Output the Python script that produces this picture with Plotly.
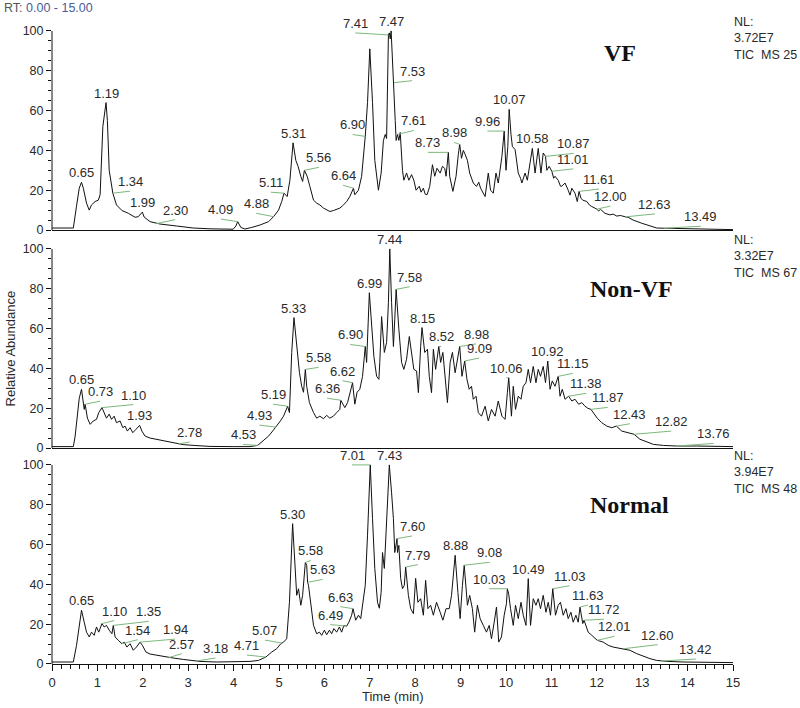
import plotly.graph_objects as go
from plotly.subplots import make_subplots
import numpy as np

## DATA (retention time in min, relative abundance in %)

vf_t = [0.00, 0.47, 0.54, 0.60, 0.65, 0.69, 0.76, 0.82, 0.87, 0.95, 1.02, 1.06, 1.12, 1.19, 1.22, 1.26,
        1.34, 1.42, 1.54, 1.68, 1.83, 1.90, 1.99, 2.03, 2.16, 2.30, 2.38, 2.75, 3.11, 3.48, 3.99, 4.05,
        4.09, 4.16, 4.25, 4.40, 4.58, 4.77, 4.88, 4.99, 5.06, 5.11, 5.18, 5.24, 5.31, 5.37, 5.42, 5.48,
        5.52, 5.56, 5.62, 5.68, 5.76, 5.83, 5.90, 5.98, 6.05, 6.12, 6.20, 6.27, 6.34, 6.42, 6.49, 6.56,
        6.64, 6.67, 6.75, 6.82, 6.90, 6.95, 7.00, 7.06, 7.11, 7.19, 7.25, 7.30, 7.34, 7.37, 7.41, 7.43,
        7.45, 7.47, 7.49, 7.51, 7.53, 7.56, 7.58, 7.61, 7.64, 7.67, 7.72, 7.75, 7.81, 7.86, 7.92, 7.97,
        8.02, 8.09, 8.13, 8.18, 8.22, 8.26, 8.32, 8.38, 8.43, 8.48, 8.55, 8.60, 8.65, 8.68, 8.73, 8.76,
        8.83, 8.90, 8.95, 8.98, 9.02, 9.06, 9.10, 9.15, 9.20, 9.28, 9.35, 9.40, 9.44, 9.49, 9.54, 9.61,
        9.66, 9.72, 9.78, 9.83, 9.91, 9.96, 10.00, 10.04, 10.07, 10.11, 10.14, 10.20, 10.27, 10.32, 10.35, 10.42,
        10.47, 10.53, 10.58, 10.64, 10.71, 10.77, 10.82, 10.87, 10.90, 10.95, 11.01, 11.05, 11.08, 11.15, 11.20, 11.23,
        11.30, 11.37, 11.41, 11.45, 11.52, 11.57, 11.61, 11.65, 11.69, 11.78, 11.84, 11.89, 12.00, 12.04, 12.08, 12.18,
        12.29, 12.36, 12.44, 12.52, 12.58, 12.63, 12.69, 12.74, 12.80, 12.99, 13.17, 13.32, 13.49, 13.69, 14.05, 14.42,
        15.00]
vf_y = [1.0, 1.0, 12, 21, 24, 21, 13.5, 10, 12.6, 14.3, 15, 17.7, 52, 64, 55, 30,
        18.5, 12.6, 9.8, 8.4, 6.4, 6.7, 9, 6.5, 4.2, 3.2, 3, 2, 1, 0.6, 0.4, 2,
        4.2, 1.3, 0.5, 1.3, 2.5, 4.2, 6.7, 10, 14.3, 18.5, 16.8, 25, 43.8, 35, 32, 27,
        24.4, 30, 27, 21.9, 15, 13.5, 12.6, 11, 10, 9.3, 9.8, 10.4, 11, 12.6, 14.3, 16.8,
        21, 17.7, 20, 27, 47, 64, 91, 64, 35, 20, 28.6, 45, 48, 46, 98, 99,
        96, 100, 88, 82, 74, 55, 45, 48, 45, 49, 30, 25, 28.6, 25, 27.8, 25,
        20, 22, 19, 21, 18, 17.7, 21.9, 32.8, 27, 31, 28.6, 32, 31, 27, 39, 27,
        19.4, 27, 38, 43, 36, 40, 38, 35, 28.6, 23.6, 21.9, 24, 21, 19, 16.8, 28.6,
        20, 18.5, 28.6, 23.6, 37, 49.7, 30, 42, 60.6, 48, 42, 40.4, 28.6, 26, 23.6, 28.6,
        25, 33.7, 41, 28.6, 41, 28.6, 38.7, 37, 30, 32, 29.5, 26, 27, 25, 22, 22,
        23.6, 20, 17.5, 21, 18.5, 14.3, 19.4, 16, 15, 14.3, 12.5, 11.8, 10.5, 9.5, 10.4, 8.4,
        7.6, 8, 7, 7.3, 6.7, 6.6, 6.4, 5.6, 5, 3.4, 2, 1, 0.9, 0.8, 0.5, 0.3,
        0.2]

nvf_t = [0.00, 0.47, 0.51, 0.56, 0.60, 0.65, 0.68, 0.71, 0.73, 0.78, 0.84, 0.91, 0.98, 1.03, 1.10, 1.15,
         1.20, 1.26, 1.31, 1.37, 1.42, 1.50, 1.56, 1.61, 1.66, 1.72, 1.78, 1.85, 1.93, 1.98, 2.05, 2.16,
         2.38, 2.60, 2.78, 2.89, 3.19, 3.48, 3.99, 4.36, 4.53, 4.65, 4.77, 4.86, 4.93, 4.98, 5.03, 5.10,
         5.17, 5.19, 5.23, 5.28, 5.33, 5.39, 5.45, 5.50, 5.54, 5.58, 5.61, 5.67, 5.76, 5.83, 5.90, 5.98,
         6.05, 6.12, 6.20, 6.27, 6.34, 6.36, 6.40, 6.45, 6.51, 6.56, 6.62, 6.67, 6.72, 6.78, 6.84, 6.90,
         6.93, 6.99, 7.04, 7.09, 7.15, 7.20, 7.22, 7.26, 7.32, 7.37, 7.41, 7.44, 7.48, 7.52, 7.55, 7.58,
         7.64, 7.70, 7.75, 7.81, 7.87, 7.92, 7.97, 8.03, 8.07, 8.12, 8.15, 8.21, 8.27, 8.31, 8.36, 8.40,
         8.45, 8.52, 8.56, 8.61, 8.66, 8.71, 8.77, 8.82, 8.88, 8.93, 8.98, 9.03, 9.09, 9.14, 9.19, 9.24,
         9.28, 9.34, 9.39, 9.46, 9.54, 9.61, 9.68, 9.76, 9.83, 9.91, 9.98, 10.03, 10.06, 10.12, 10.16, 10.21,
         10.27, 10.33, 10.38, 10.44, 10.49, 10.54, 10.60, 10.66, 10.71, 10.76, 10.82, 10.87, 10.92, 10.97, 11.02, 11.08,
         11.15, 11.19, 11.24, 11.30, 11.38, 11.45, 11.52, 11.60, 11.67, 11.74, 11.80, 11.87, 11.92, 12.01, 12.11, 12.22,
         12.33, 12.43, 12.55, 12.66, 12.82, 12.95, 13.10, 13.25, 13.47, 13.76, 14.20, 14.64, 15.00]
nvf_y = [0.7, 0.7, 6, 16, 25, 29.5, 24.5, 19.4, 22, 15, 11.9, 13.6, 14.4, 17.8, 20.3, 17.8,
         15, 17, 14.4, 16, 12.7, 13.6, 10.2, 11, 8.5, 10.2, 7.7, 9.4, 11.4, 8.5, 6, 5,
         4, 2.7, 2.0, 1.7, 1.2, 0.8, 0.7, 0.7, 1.3, 3.5, 6, 8.5, 10.5, 12, 13.6, 16,
         20.3, 21, 17.8, 48, 65.5, 51, 38, 31, 28, 39.5, 31, 22.8, 17.8, 15, 16, 14.7,
         16.4, 15, 16, 17.8, 19.4, 24, 22, 20.3, 22.8, 28, 32.8, 22, 28, 29.5, 36, 51,
         43, 78, 59.6, 46, 36, 34.5, 43, 66, 48, 53, 73, 100, 73, 51, 64.7, 79.7,
         59.6, 43, 39.5, 44.6, 56, 48, 39.5, 38.7, 27.8, 51, 60.5, 48, 49.6, 36, 27.8, 49.6,
         39.5, 51, 43, 48, 36, 22.8, 43, 48, 37.8, 44.6, 51, 36, 43.7, 34.5, 29.5, 31,
         24.5, 26, 17.8, 16, 21, 13.6, 19.4, 16, 23.6, 16, 14.4, 27.8, 35.3, 16, 31, 19.4,
         26, 24.5, 31, 32.8, 39.5, 32.8, 41, 32.8, 39.5, 36, 41, 32.8, 43.7, 29.5, 33.7, 31,
         36, 26, 29.5, 24.5, 26, 23.6, 24.5, 22, 22.8, 21, 20, 19.4, 17.8, 15, 12.7, 11,
         10.2, 11, 8.5, 7.7, 6.9, 4.4, 3, 1.8, 1.3, 1.0, 1, 0.7, 0.7]

nor_t = [0.00, 0.47, 0.54, 0.62, 0.65, 0.71, 0.76, 0.82, 0.87, 0.93, 0.98, 1.03, 1.10, 1.15, 1.20, 1.26,
         1.32, 1.35, 1.39, 1.46, 1.54, 1.59, 1.65, 1.72, 1.79, 1.86, 1.94, 1.99, 2.07, 2.16, 2.38, 2.57,
         2.67, 2.89, 3.18, 3.26, 3.63, 3.99, 4.36, 4.55, 4.71, 4.84, 4.95, 5.04, 5.07, 5.10, 5.17, 5.23,
         5.30, 5.34, 5.39, 5.43, 5.48, 5.52, 5.58, 5.61, 5.63, 5.65, 5.70, 5.76, 5.83, 5.89, 5.94, 6.00,
         6.05, 6.11, 6.16, 6.21, 6.27, 6.33, 6.38, 6.43, 6.49, 6.54, 6.60, 6.63, 6.69, 6.75, 6.80, 6.86,
         6.90, 6.95, 6.99, 7.01, 7.06, 7.11, 7.17, 7.21, 7.25, 7.28, 7.32, 7.36, 7.40, 7.43, 7.48, 7.52,
         7.55, 7.60, 7.61, 7.64, 7.68, 7.72, 7.76, 7.79, 7.85, 7.90, 7.96, 8.01, 8.06, 8.12, 8.18, 8.23,
         8.28, 8.34, 8.40, 8.47, 8.55, 8.61, 8.68, 8.75, 8.80, 8.88, 8.94, 8.99, 9.04, 9.08, 9.15, 9.20,
         9.26, 9.31, 9.37, 9.43, 9.50, 9.57, 9.63, 9.68, 9.74, 9.79, 9.84, 9.90, 9.96, 10.01, 10.03, 10.06,
         10.10, 10.16, 10.21, 10.27, 10.33, 10.38, 10.44, 10.49, 10.54, 10.60, 10.66, 10.71, 10.76, 10.82, 10.88, 10.93,
         10.98, 11.03, 11.09, 11.15, 11.20, 11.26, 11.32, 11.37, 11.43, 11.48, 11.54, 11.59, 11.63, 11.69, 11.72, 11.81,
         11.89, 11.96, 12.01, 12.14, 12.25, 12.36, 12.51, 12.60, 12.73, 12.88, 13.03, 13.17, 13.32, 13.42, 13.55, 13.90,
         14.34, 15.00]
nor_y = [1, 1, 9.4, 22.8, 27, 21, 16, 13.6, 16, 14.4, 18.6, 16, 20.3, 18.6, 19.4, 17,
         15.2, 19.4, 13.6, 11.9, 10.2, 11, 8.5, 10.2, 6.9, 8.5, 11, 9.4, 6, 5, 4, 3.2,
         3, 2.3, 1.5, 1.3, 1, 1, 1.3, 1.8, 3.5, 6, 7.7, 10.2, 10.5, 11, 12.7, 31,
         70.5, 51, 34.5, 37.8, 29.5, 34.5, 51, 49.6, 41, 39.5, 29.5, 19.4, 15.2, 16, 14.4, 17,
         14.7, 17, 15.2, 17.8, 16, 18.6, 16, 19.4, 19, 21, 24.5, 27.8, 22, 24.5, 22.8, 32.8,
         39.5, 64.7, 88, 100, 73, 48, 31, 28, 36, 56, 48, 64.7, 86, 100, 86, 73,
         56, 63, 56, 59.6, 43, 37.8, 39.5, 48.7, 34.5, 27.8, 25.3, 43, 31, 32.8, 24.5, 42,
         27.8, 29.5, 24.5, 31, 26, 22, 27.8, 27.8, 34.5, 54.6, 36, 22.8, 39.5, 49.6, 29.5, 34.5,
         27.8, 16, 29.5, 22.8, 19.4, 16, 19.4, 12.7, 21, 28.6, 11, 13.6, 24.5, 30.3, 37.8, 35,
         27.8, 19.4, 29.5, 22.8, 31, 24.5, 19.4, 42.9, 19.4, 32.8, 29.5, 32.8, 27.8, 34.5, 26, 31,
         24.5, 37.8, 24.5, 29.5, 31, 24.5, 27.8, 22.8, 26, 21, 24.5, 21, 28.6, 20.3, 22, 16,
         14.4, 12.7, 11.9, 11, 9.4, 8.5, 8, 7.7, 6.9, 5.2, 3.9, 2.7, 1.8, 1.5, 1.3, 1,
         1, 0.7]

vf_peaks = [0.65, 1.19, 1.34, 1.99, 2.30, 4.09, 4.88, 5.11, 5.31, 5.56, 6.64, 6.90, 7.41, 7.47,
            7.53, 7.61, 8.73, 8.98, 9.96, 10.07, 10.58, 10.87, 11.01, 11.61, 12.00, 12.63, 13.49]
nvf_peaks = [0.65, 0.73, 1.10, 1.93, 2.78, 4.53, 4.93, 5.19, 5.33, 5.58, 6.36, 6.62, 6.90, 6.99,
             7.44, 7.58, 8.15, 8.52, 8.98, 9.09, 10.06, 10.92, 11.15, 11.38, 11.87, 12.43, 12.82, 13.76]
nor_peaks = [0.65, 1.10, 1.35, 1.54, 1.94, 2.57, 3.18, 4.71, 5.07, 5.30, 5.58, 5.63, 6.49, 6.63,
             7.01, 7.43, 7.60, 7.79, 8.88, 9.08, 10.03, 10.49, 11.03, 11.63, 11.72, 12.01, 12.60, 13.42]

panel_names = ["VF", "Non-VF", "Normal"]
nl_values = ["3.72E7", "3.32E7", "3.94E7"]
ms_scans = ["25", "67", "48"]

# where each peak label sits relative to its peak (min, %) -- layout only
vf_lab = [(0, 0), (0, 0), (0.38, 1), (0, 0), (0.41, 2), (-0.37, 1.3), (-0.38, 1.7), (-0.29, 0.5),
          (0, 0), (0.32, 1.5), (-0.23, 1.5), (-0.28, 1), (-0.73, 1), (0, 0), (0.4, 1), (0.36, 2),
          (-0.45, 0), (-0.12, 1), (-0.37, 0), (0, 0), (0, 0), (0.62, 1.5), (0.47, 1.2), (0.44, 1.2),
          (0.3, 1.5), (0.65, 1.5), (0.8, 1)]
nvf_lab = [(0, 0), (0.33, 1.5), (0.69, 1.5), (0, 0), (0.25, 1), (-0.32, 0.5), (-0.36, 1), (-0.32, 1),
           (0, 0), (0.29, 1), (-0.3, 1), (-0.22, 1), (-0.33, 1), (0, 0), (0, 0), (0.3, 1.3),
           (0, 0), (0.05, 0), (0.36, 1.3), (0.32, 1.5), (-0.05, 0), (0, 0), (0.32, 1.5), (0.39, 1.5),
           (0.37, 1), (0.3, 1.2), (0.82, 1.6), (0.81, 1.3)]
nor_lab = [(0, 0), (0.27, 1.5), (0.78, 2), (0.35, 2), (0.77, 1.5), (0.29, 2), (0.42, 1.5), (-0.42, 1),
           (-0.38, 1.5), (0, 0), (0.12, 1), (0.33, 1.5), (-0.36, 0.8), (-0.28, 1), (-0.4, 0), (0, 0),
           (0.33, 1.3), (0.27, 1.2), (0, 0), (0.56, 1.5), (-0.4, 0), (0, 0), (0.37, 1.5), (0.17, 1),
           (0.44, 0.5), (0.38, 2), (0.74, 2), (0.76, 1)]

panels = [(vf_t, vf_y, vf_peaks, vf_lab),
          (nvf_t, nvf_y, nvf_peaks, nvf_lab),
          (nor_t, nor_y, nor_peaks, nor_lab)]

FONT = "Arial, Liberation Sans, sans-serif"
YMAX = 108
doms = [[0.6687, 1.0], [0.3328, 0.6641], [0.0, 0.3313]]
name_pos = [(12.5, 89), (12.77, 80), (12.73, 80)]

fig = make_subplots(rows=3, cols=1, shared_xaxes=True, vertical_spacing=0.0)

for i, (t, y, peaks, lab) in enumerate(panels):
    row = i + 1
    ax = "" if row == 1 else str(row)
    fig.add_trace(go.Scatter(x=t, y=y, mode="lines", line=dict(color="#111111", width=1),
                             hoverinfo="skip"), row=row, col=1)
    gx, gy = [], []
    for rt, (dx, dy) in zip(peaks, lab):
        yp = float(np.interp(rt, t, y))
        lx, ly = rt + dx, yp + dy
        if dx != 0:
            gx += [rt, lx, None]
            gy += [yp, ly, None]
        fig.add_annotation(x=lx, y=ly, xref="x" + ax, yref="y" + ax, text=f"{rt:.2f}",
                           showarrow=False, xanchor="center", yanchor="bottom", yshift=0,
                           font=dict(family=FONT, size=13, color="#2a2a2a"))
    fig.add_trace(go.Scatter(x=gx, y=gy, mode="lines", line=dict(color="#7cb87c", width=1),
                             hoverinfo="skip"), row=row, col=1)
    # sample name
    fig.add_annotation(x=name_pos[i][0], y=name_pos[i][1], xref="x" + ax, yref="y" + ax,
                       text="<b>" + panel_names[i] + "</b>", showarrow=False,
                       font=dict(family="Times New Roman, Liberation Serif, serif", size=24, color="#111"))
    # NL header
    fig.add_annotation(x=1.0, y=doms[i][1], xref="paper", yref="paper", xanchor="left", yanchor="top",
                       xshift=-1, yshift=2, align="left", showarrow=False,
                       text="NL:<br>" + nl_values[i] + "<br>TIC\u00a0 MS " + ms_scans[i],
                       font=dict(family=FONT, size=12.5, color="#2a2a2a"))
    # y axis line only from 0 to 100
    fig.add_shape(type="line", xref="x" + ax + " domain", yref="y" + ax + " domain",
                  x0=0, x1=0, y0=0, y1=100 / YMAX, line=dict(color="#111", width=1))
    fig.update_yaxes(row=row, col=1, range=[0, YMAX], domain=doms[i], showline=False,
                     showgrid=False, zeroline=False, tickvals=[0, 20, 40, 60, 80, 100],
                     ticks="outside", ticklen=5, tickcolor="#111", automargin=False,
                     tickfont=dict(family=FONT, size=12.5, color="#2a2a2a"),
                     minor=dict(tickvals=[v for v in range(5, 100, 5) if v % 20],
                                ticks="outside", ticklen=3, tickcolor="#111", showgrid=False))
    fig.update_xaxes(row=row, col=1, range=[0, 15], showline=True, linecolor="#111", linewidth=1,
                     showgrid=False, zeroline=False, automargin=False)

fig.update_xaxes(row=3, col=1, ticks="outside", ticklen=6, tickcolor="#111", tickvals=list(range(16)),
                 showticklabels=True, tickfont=dict(family=FONT, size=13, color="#2a2a2a"),
                 minor=dict(dtick=0.2, tick0=0, ticks="outside", ticklen=4, tickcolor="#111", showgrid=False))
fig.update_xaxes(row=1, col=1, ticks="", showticklabels=False)
fig.update_xaxes(row=2, col=1, ticks="", showticklabels=False)

fig.add_annotation(x=0.5, y=-0.0508, xref="paper", yref="paper", text="Time (min)", showarrow=False,
                   xanchor="center", yanchor="middle", font=dict(family=FONT, size=13, color="#2a2a2a"))
fig.add_annotation(x=-0.0617, y=50, xref="paper", yref="y2", text="Relative Abundance", textangle=-90,
                   xanchor="center", yanchor="middle", showarrow=False,
                   font=dict(family=FONT, size=13, color="#2a2a2a"))
fig.add_annotation(x=-0.0734, y=1.0108, xref="paper", yref="paper", xanchor="left", yanchor="middle",
                   showarrow=False,
                   text="<span style='color:#555'>RT:</span> <span style='color:#4a5a96'>0.00 - 15.00</span>",
                   font=dict(family=FONT, size=12.5, color="#555"))

fig.update_layout(width=800, height=708, margin=dict(l=52, r=67, t=15, b=44),
                  plot_bgcolor="white", paper_bgcolor="white", showlegend=False)

fig.write_html("out.html", config={"displayModeBar": False},
               post_script="document.body.style.margin='0px';")
